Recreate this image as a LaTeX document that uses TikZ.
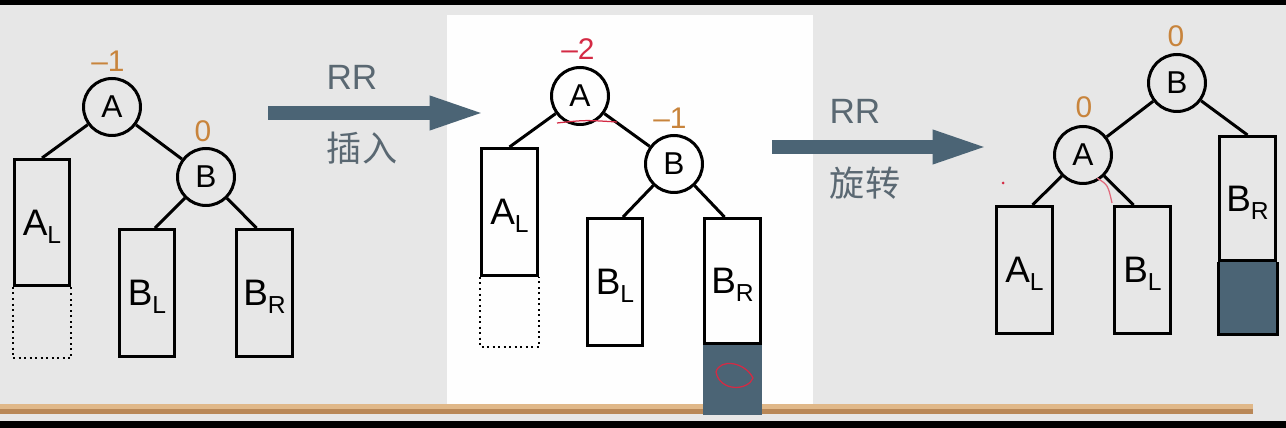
\documentclass[tikz,border=0pt]{standalone}
\usepackage{fontspec}
\setmainfont{Liberation Sans}
\newfontfamily\cjk{Noto Sans CJK SC}
\usetikzlibrary{arrows.meta}
\definecolor{slate}{HTML}{4B6475}
\definecolor{bfcolor}{HTML}{C8843C}
\definecolor{hlred}{HTML}{D42A44}
\definecolor{bggray}{HTML}{E7E7E7}
\definecolor{captiongray}{HTML}{5A6872}
\definecolor{rulelight}{HTML}{E0B889}
\definecolor{ruledark}{HTML}{B98858}
\newcommand{\sublabel}[2]{#1\raisebox{-0.16cm}[0pt][0pt]{\fontsize{14}{14}\selectfont #2}}
\tikzset{
  avl/.style={circle,draw,line width=0.06cm,minimum size=1.14cm,inner sep=0pt,font=\fontsize{18}{18}\selectfont},
  sub/.style={rectangle,draw,line width=0.06cm,minimum width=1.12cm,inner sep=0pt,font=\fontsize{21}{21}\selectfont},
  bf/.style={text=bfcolor,inner sep=0pt,font=\fontsize{17}{17}\selectfont},
  edge/.style={line width=0.06cm},
  gap/.style={dotted,line width=0.04cm},
  op/.style={line width=0.28cm,slate,-{Triangle[length=1.15cm,width=0.6cm]}},
  optext/.style={text=captiongray,inner sep=0pt,font=\fontsize{20}{20}\selectfont},
  scribble/.style={hlred,line width=0.025cm}
}

\begin{document}
\begin{tikzpicture}[x=0.02cm,y=-0.02cm]
\useasboundingbox (0,0) rectangle (1286,428);
\fill[bggray] (0,0) rectangle (1286,428);
\fill[black] (0,0) rectangle (1286,5);
\fill[white!97!bggray] (447,15) rectangle (813,405);
\fill[rulelight] (0,404) rectangle (1253,409);
\fill[ruledark] (0,409) rectangle (1253,414);
\fill[black] (0,421) rectangle (1286,428);

\node[avl] (Aone) at (112,107) {A};
\node[avl] (Bone) at (206,177) {B};
\node[sub,minimum height=2.52cm] (ALone) at (42,222.5) {\sublabel{A}{L}};
\node[sub,minimum height=2.54cm] (BLone) at (147,293) {\sublabel{B}{L}};
\node[sub,minimum height=2.54cm] (BRone) at (264.5,293) {\sublabel{B}{R}};
\node[bf] (bfAone) at (108,61) {–1};
\node[bf] (bfBone) at (203,131) {0};
\draw[edge] (Aone) -- (ALone.north);
\draw[edge] (Aone) -- (Bone);
\draw[edge] (Bone) -- ([xshift=0.16cm]BLone.north);
\draw[edge] (Bone) -- ([xshift=-0.16cm]BRone.north);
\draw[gap] (ALone.south west) -- ++(0,71) -| (ALone.south east);

\coordinate (insFrom) at (268,113);
\coordinate (insTo) at (487,113);
\draw[op] (insFrom) -- (insTo);
\node[optext] (insTop) at (352,77) {RR};
\node[optext] (insBot) at (362,148) {\cjk 插入};

\node[avl] (Atwo) at (580,96) {A};
\node[avl] (Btwo) at (674,164) {B};
\node[sub,minimum height=2.54cm] (ALtwo) at (509.5,212) {\sublabel{A}{L}};
\node[sub,minimum height=2.54cm] (BLtwo) at (615,282) {\sublabel{B}{L}};
\fill[slate] (703,345) rectangle (762,415);
\node[sub,minimum height=2.5cm] (BRtwo) at (732.5,281) {\sublabel{B}{R}};
\node[bf,text=hlred] (bfAtwo) at (578,49) {–2};
\node[bf] (bfBtwo) at (670,118) {–1};
\draw[edge] (Atwo) -- (ALtwo.north);
\draw[edge] (Atwo) -- (Btwo);
\draw[edge] (Btwo) -- ([xshift=0.16cm]BLtwo.north);
\draw[edge] (Btwo) -- ([xshift=-0.16cm]BRtwo.north);
\draw[gap] (ALtwo.south west) -- ++(0,70) -| (ALtwo.south east);
\draw[scribble] (557,123) .. controls (585,120) .. (617,122);
\draw[scribble] (716,372) .. controls (720,358) and (745,362) .. (753,378)
  .. controls (748,391) and (720,392) .. (716,372);

\coordinate (rotFrom) at (772,147);
\coordinate (rotTo) at (990,147);
\draw[op] (rotFrom) -- (rotTo);
\node[optext] (rotTop) at (855,111) {RR};
\node[optext] (rotBot) at (865,183) {\cjk 旋转};

\node[avl] (Bthree) at (1177,83) {B};
\node[avl] (Athree) at (1083,155) {A};
\node[sub,minimum height=2.54cm] (ALthree) at (1024.5,270) {\sublabel{A}{L}};
\node[sub,minimum height=2.54cm] (BLthree) at (1142.5,270) {\sublabel{B}{L}};
\node[sub,minimum height=2.48cm] (BRthree) at (1247.5,198.5) {\sublabel{B}{R}};
\fill[slate] (BRthree.south west) rectangle ++(59,73);
\draw[edge] (BRthree.south west) -- ++(0,73) -| (BRthree.south east);
\node[bf] (bfBthree) at (1176,36) {0};
\node[bf] (bfAthree) at (1084,107) {0};
\draw[edge] (Bthree) -- (Athree);
\draw[edge] (Bthree) -- (BRthree.north);
\draw[edge] (Athree) -- ([xshift=0.16cm]ALthree.north);
\draw[edge] (Athree) -- ([xshift=-0.18cm]BLthree.north);
\draw[scribble,hlred!70] (1097,178) .. controls (1108,185) .. (1112,203);
\fill[hlred] (1003,183) circle (0.03cm);
\end{tikzpicture}
\end{document}
